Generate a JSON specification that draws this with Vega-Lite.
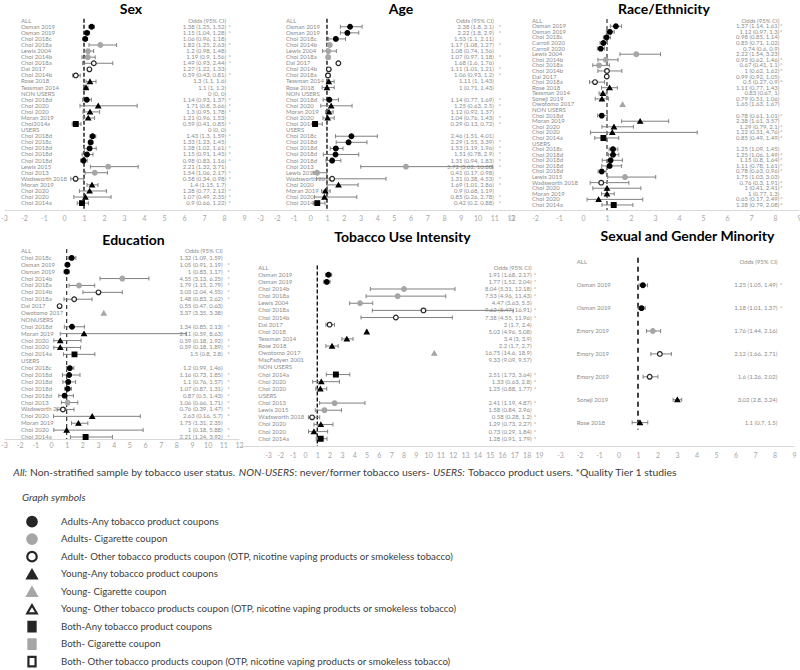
{
"$schema":"https://vega.github.io/schema/vega-lite/v6.json",
"padding":{"top":3,"left":0,"right":0,"bottom":0},
"background":"white",
"spacing":9,
"resolve":{"scale":{"shape":"independent","fill":"independent","stroke":"independent","size":"independent"}},
"datasets":{
"sex":[
{"i":0,"study":"ALL","txt":"Odds (95% CI)","t1":false},
{"i":1,"study":"Osman 2019","or":1.38,"lo":1.25,"hi":1.52,"txt":"1.38 (1.25, 1.52)","t1":true,"sym":"AdultAny"},
{"i":2,"study":"Osman 2019","or":1.15,"lo":1.04,"hi":1.28,"txt":"1.15 (1.04, 1.28)","t1":true,"sym":"AdultAny"},
{"i":3,"study":"Choi 2018c","or":1.06,"lo":0.96,"hi":1.18,"txt":"1.06 (0.96, 1.18)","t1":false,"sym":"AdultAny"},
{"i":4,"study":"Choi 2018a","or":1.82,"lo":1.25,"hi":2.63,"txt":"1.82 (1.25, 2.63)","t1":true,"sym":"AdultCig"},
{"i":5,"study":"Lewis 2004","or":1.2,"lo":0.98,"hi":1.48,"txt":"1.2 (0.98, 1.48)","t1":false,"sym":"AdultCig"},
{"i":6,"study":"Choi 2014b","or":1.19,"lo":0.9,"hi":1.56,"txt":"1.19 (0.9, 1.56)","t1":true,"sym":"AdultCig"},
{"i":7,"study":"Choi 2018a","or":1.49,"lo":0.93,"hi":2.44,"txt":"1.49 (0.93, 2.44)","t1":true,"sym":"AdultOTP"},
{"i":8,"study":"Dai 2017","or":1.27,"lo":1.22,"hi":1.33,"txt":"1.27 (1.22, 1.33)","t1":false,"sym":"AdultOTP"},
{"i":9,"study":"Choi 2014b","or":0.59,"lo":0.43,"hi":0.81,"txt":"0.59 (0.43, 0.81)","t1":true,"sym":"AdultOTP"},
{"i":10,"study":"Rose 2018","or":1.3,"lo":1.1,"hi":1.6,"txt":"1.3 (1.1, 1.6)","t1":false,"sym":"YoungAny"},
{"i":11,"study":"Tessman 2014","or":1.1,"lo":1,"hi":1.2,"txt":"1.1 (1, 1.2)","t1":false,"sym":"YoungAny"},
{"i":12,"study":"NON USERS","txt":"0 (0, 0)","t1":false},
{"i":13,"study":"Choi 2018d","or":1.14,"lo":0.93,"hi":1.37,"txt":"1.14 (0.93, 1.37)","t1":true,"sym":"AdultAny"},
{"i":14,"study":"Choi 2020","or":1.71,"lo":0.8,"hi":3.66,"txt":"1.71 (0.8, 3.66)","t1":true,"sym":"YoungAny"},
{"i":15,"study":"Choi 2020","or":1.3,"lo":0.95,"hi":1.78,"txt":"1.3 (0.95, 1.78)","t1":true,"sym":"YoungAny"},
{"i":16,"study":"Moran 2019","or":1.21,"lo":0.96,"hi":1.53,"txt":"1.21 (0.96, 1.53)","t1":false,"sym":"YoungAny"},
{"i":17,"study":"Choi2014a","or":0.59,"lo":0.41,"hi":0.85,"txt":"0.59 (0.41, 0.85)","t1":true,"sym":"BothAny"},
{"i":18,"study":"USERS","txt":"0 (0, 0)","t1":false},
{"i":19,"study":"Choi 2018d","or":1.43,"lo":1.3,"hi":1.59,"txt":"1.43 (1.3, 1.59)","t1":true,"sym":"AdultAny"},
{"i":20,"study":"Choi 2018c","or":1.33,"lo":1.23,"hi":1.45,"txt":"1.33 (1.23, 1.45)","t1":false,"sym":"AdultAny"},
{"i":21,"study":"Choi 2018d","or":1.28,"lo":1.02,"hi":1.61,"txt":"1.28 (1.02, 1.61)","t1":true,"sym":"AdultAny"},
{"i":22,"study":"Choi 2018d","or":1.15,"lo":0.91,"hi":1.45,"txt":"1.15 (0.91, 1.45)","t1":true,"sym":"AdultAny"},
{"i":23,"study":"Choi 2018d","or":0.98,"lo":0.83,"hi":1.16,"txt":"0.98 (0.83, 1.16)","t1":true,"sym":"AdultAny"},
{"i":24,"study":"Lewis 2015","or":2.21,"lo":1.32,"hi":3.71,"txt":"2.21 (1.32, 3.71)","t1":false,"sym":"AdultCig"},
{"i":25,"study":"Choi 2013","or":1.54,"lo":1.06,"hi":2.17,"txt":"1.54 (1.06, 2.17)","t1":true,"sym":"AdultCig"},
{"i":26,"study":"Wadsworth 2018","or":0.58,"lo":0.34,"hi":0.98,"txt":"0.58 (0.34, 0.98)","t1":true,"sym":"AdultOTP"},
{"i":27,"study":"Moran 2019","or":1.4,"lo":1.15,"hi":1.7,"txt":"1.4 (1.15, 1.7)","t1":false,"sym":"YoungAny"},
{"i":28,"study":"Choi 2020","or":1.28,"lo":0.77,"hi":2.12,"txt":"1.28 (0.77, 2.12)","t1":true,"sym":"YoungAny"},
{"i":29,"study":"Choi 2020","or":1.07,"lo":0.49,"hi":2.35,"txt":"1.07 (0.49, 2.35)","t1":true,"sym":"YoungAny"},
{"i":30,"study":"Choi 2014a","or":0.9,"lo":0.66,"hi":1.22,"txt":"0.9 (0.66, 1.22)","t1":true,"sym":"BothAny"}
],
"age":[
{"i":0,"study":"ALL","txt":"Odds (95% CI)","t1":false},
{"i":1,"study":"Osman 2019","or":2.38,"lo":1.8,"hi":3.1,"txt":"2.38 (1.8, 3.1)","t1":true,"sym":"AdultAny"},
{"i":2,"study":"Osman 2019","or":2.22,"lo":1.8,"hi":2.9,"txt":"2.22 (1.8, 2.9)","t1":true,"sym":"AdultAny"},
{"i":3,"study":"Choi 2018c","or":1.53,"lo":1.1,"hi":2.11,"txt":"1.53 (1.1, 2.11)","t1":false,"sym":"AdultAny"},
{"i":4,"study":"Choi 2014b","or":1.17,"lo":1.08,"hi":1.27,"txt":"1.17 (1.08, 1.27)","t1":true,"sym":"AdultCig"},
{"i":5,"study":"Lewis 2004","or":1.08,"lo":0.74,"hi":1.56,"txt":"1.08 (0.74, 1.56)","t1":false,"sym":"AdultCig"},
{"i":6,"study":"Choi 2018a","or":1.07,"lo":0.97,"hi":1.18,"txt":"1.07 (0.97, 1.18)","t1":true,"sym":"AdultCig"},
{"i":7,"study":"Dai 2017","or":1.68,"lo":1.6,"hi":1.76,"txt":"1.68 (1.6, 1.76)","t1":false,"sym":"AdultOTP"},
{"i":8,"study":"Choi 2014b","or":1.11,"lo":1.01,"hi":1.21,"txt":"1.11 (1.01, 1.21)","t1":true,"sym":"AdultOTP"},
{"i":9,"study":"Choi 2018a","or":1.06,"lo":0.93,"hi":1.2,"txt":"1.06 (0.93, 1.2)","t1":true,"sym":"AdultOTP"},
{"i":10,"study":"Tessman 2014","or":1.11,"lo":1,"hi":1.43,"txt":"1.11 (1, 1.43)","t1":false,"sym":"YoungAny"},
{"i":11,"study":"Rose 2018","or":1,"lo":0.71,"hi":1.43,"txt":"1 (0.71, 1.43)","t1":false,"sym":"YoungAny"},
{"i":12,"study":"NON USERS","txt":"","t1":false},
{"i":13,"study":"Choi 2018d","or":1.14,"lo":0.77,"hi":1.69,"txt":"1.14 (0.77, 1.69)","t1":true,"sym":"AdultAny"},
{"i":14,"study":"Choi 2020","or":1.25,"lo":0.63,"hi":2.5,"txt":"1.25 (0.63, 2.5)","t1":true,"sym":"YoungAny"},
{"i":15,"study":"Moran 2019","or":1.12,"lo":0.92,"hi":1.37,"txt":"1.12 (0.92, 1.37)","t1":false,"sym":"YoungAny"},
{"i":16,"study":"Choi 2020","or":1.04,"lo":0.76,"hi":1.43,"txt":"1.04 (0.76, 1.43)","t1":true,"sym":"YoungAny"},
{"i":17,"study":"Choi 2014a","or":0.29,"lo":0.13,"hi":0.72,"txt":"0.29 (0.13, 0.72)","t1":true,"sym":"BothAny"},
{"i":18,"study":"USERS","txt":"","t1":false},
{"i":19,"study":"Choi 2018c","or":2.46,"lo":1.51,"hi":4.01,"txt":"2.46 (1.51, 4.01)","t1":false,"sym":"AdultAny"},
{"i":20,"study":"Choi 2018d","or":2.29,"lo":1.55,"hi":3.39,"txt":"2.29 (1.55, 3.39)","t1":true,"sym":"AdultAny"},
{"i":21,"study":"Choi 2018d","or":1.53,"lo":1.19,"hi":1.96,"txt":"1.53 (1.19, 1.96)","t1":true,"sym":"AdultAny"},
{"i":22,"study":"Choi 2018d","or":1.51,"lo":0.78,"hi":2.9,"txt":"1.51 (0.78, 2.9)","t1":true,"sym":"AdultAny"},
{"i":23,"study":"Choi 2018d","or":1.31,"lo":0.94,"hi":1.83,"txt":"1.31 (0.94, 1.83)","t1":true,"sym":"AdultAny"},
{"i":24,"study":"Choi 2013","or":5.72,"lo":3.02,"hi":10.88,"txt":"5.72 (3.02, 10.88)","t1":true,"sym":"AdultCig"},
{"i":25,"study":"Lewis 2015","or":0.41,"lo":0.17,"hi":0.98,"txt":"0.41 (0.17, 0.98)","t1":false,"sym":"AdultCig"},
{"i":26,"study":"Wadsworth 2018","or":1.31,"lo":0.38,"hi":4.53,"txt":"1.31 (0.38, 4.53)","t1":true,"sym":"AdultOTP"},
{"i":27,"study":"Choi 2020","or":1.69,"lo":1.01,"hi":2.86,"txt":"1.69 (1.01, 2.86)","t1":true,"sym":"YoungAny"},
{"i":28,"study":"Moran 2019","or":0.9,"lo":0.68,"hi":1.19,"txt":"0.9 (0.68, 1.19)","t1":false,"sym":"YoungAny"},
{"i":29,"study":"Choi 2020","or":0.85,"lo":0.26,"hi":2.78,"txt":"0.85 (0.26, 2.78)","t1":true,"sym":"YoungAny"},
{"i":30,"study":"Choi 2014a","or":0.42,"lo":0.2,"hi":0.88,"txt":"0.42 (0.2, 0.88)","t1":true,"sym":"BothAny"}
],
"race":[
{"i":0,"study":"ALL","txt":"Odds (95% CI)","t1":false},
{"i":1,"study":"Osman 2019","or":1.37,"lo":1.14,"hi":1.61,"txt":"1.37 (1.14, 1.61)","t1":true,"sym":"AdultAny"},
{"i":2,"study":"Osman 2019","or":1.12,"lo":0.97,"hi":1.3,"txt":"1.12 (0.97, 1.3)","t1":true,"sym":"AdultAny"},
{"i":3,"study":"Choi 2018c","or":0.98,"lo":0.85,"hi":1.14,"txt":"0.98 (0.85, 1.14)","t1":false,"sym":"AdultAny"},
{"i":4,"study":"Carroll 2020","or":0.85,"lo":0.71,"hi":1.02,"txt":"0.85 (0.71, 1.02)","t1":false,"sym":"AdultAny"},
{"i":5,"study":"Carroll 2020","or":0.74,"lo":0.6,"hi":0.9,"txt":"0.74 (0.6, 0.9)","t1":false,"sym":"AdultAny"},
{"i":6,"study":"Lewis 2004","or":2.22,"lo":1.54,"hi":3.23,"txt":"2.22 (1.54, 3.23)","t1":false,"sym":"AdultCig"},
{"i":7,"study":"Choi 2014b","or":0.95,"lo":0.62,"hi":1.46,"txt":"0.95 (0.62, 1.46)","t1":true,"sym":"AdultCig"},
{"i":8,"study":"Choi 2018a","or":0.67,"lo":0.41,"hi":1.1,"txt":"0.67 (0.41, 1.1)","t1":true,"sym":"AdultCig"},
{"i":9,"study":"Choi 2014b","or":1,"lo":0.62,"hi":1.62,"txt":"1 (0.62, 1.62)","t1":true,"sym":"AdultOTP"},
{"i":10,"study":"Dai 2017","or":0.99,"lo":0.92,"hi":1.05,"txt":"0.99 (0.92, 1.05)","t1":false,"sym":"AdultOTP"},
{"i":11,"study":"Choi 2018a","or":0.5,"lo":0.27,"hi":0.9,"txt":"0.5 (0.27, 0.9)","t1":true,"sym":"AdultOTP"},
{"i":12,"study":"Rose 2018","or":1.11,"lo":0.77,"hi":1.43,"txt":"1.11 (0.77, 1.43)","t1":false,"sym":"YoungAny"},
{"i":13,"study":"Tessman 2014","or":0.83,"lo":0.67,"hi":1,"txt":"0.83 (0.67, 1)","t1":false,"sym":"YoungAny"},
{"i":14,"study":"Soneji 2019","or":0.79,"lo":0.51,"hi":1.06,"txt":"0.79 (0.51, 1.06)","t1":false,"sym":"YoungAny"},
{"i":15,"study":"Owotomo 2017","or":1.65,"txt":"1.65 (1.63, 1.67)","t1":false,"sym":"YoungCig"},
{"i":16,"study":"NON USERS","txt":"","t1":false},
{"i":17,"study":"Choi 2018d","or":0.78,"lo":0.61,"hi":1.01,"txt":"0.78 (0.61, 1.01)","t1":true,"sym":"AdultAny"},
{"i":18,"study":"Moran 2019","or":2.38,"lo":1.61,"hi":3.57,"txt":"2.38 (1.61, 3.57)","t1":false,"sym":"YoungAny"},
{"i":19,"study":"Choi 2020","or":1.29,"lo":0.79,"hi":2.1,"txt":"1.29 (0.79, 2.1)","t1":true,"sym":"YoungAny"},
{"i":20,"study":"Choi 2020","or":1.22,"lo":0.31,"hi":4.76,"txt":"1.22 (0.31, 4.76)","t1":true,"sym":"YoungAny"},
{"i":21,"study":"Choi 2014a","or":0.85,"lo":0.49,"hi":1.49,"txt":"0.85 (0.49, 1.49)","t1":true,"sym":"BothAny"},
{"i":22,"study":"USERS","txt":"","t1":false},
{"i":23,"study":"Choi 2018c","or":1.25,"lo":1.09,"hi":1.45,"txt":"1.25 (1.09, 1.45)","t1":false,"sym":"AdultAny"},
{"i":24,"study":"Choi 2018d","or":1.25,"lo":1.06,"hi":1.49,"txt":"1.25 (1.06, 1.49)","t1":true,"sym":"AdultAny"},
{"i":25,"study":"Choi 2018d","or":1.15,"lo":0.8,"hi":1.64,"txt":"1.15 (0.8, 1.64)","t1":true,"sym":"AdultAny"},
{"i":26,"study":"Choi 2018d","or":1.11,"lo":0.78,"hi":1.61,"txt":"1.11 (0.78, 1.61)","t1":true,"sym":"AdultAny"},
{"i":27,"study":"Choi 2018d","or":0.78,"lo":0.63,"hi":0.96,"txt":"0.78 (0.63, 0.96)","t1":true,"sym":"AdultAny"},
{"i":28,"study":"Lewis 2015","or":1.75,"lo":1.03,"hi":3.03,"txt":"1.75 (1.03, 3.03)","t1":false,"sym":"AdultCig"},
{"i":29,"study":"Wadsworth 2018","or":0.76,"lo":0.3,"hi":1.91,"txt":"0.76 (0.3, 1.91)","t1":true,"sym":"AdultOTP"},
{"i":30,"study":"Choi 2020","or":1,"lo":0.41,"hi":2.41,"txt":"1 (0.41, 2.41)","t1":true,"sym":"YoungAny"},
{"i":31,"study":"Moran 2019","or":1,"lo":0.77,"hi":1.3,"txt":"1 (0.77, 1.3)","t1":false,"sym":"YoungAny"},
{"i":32,"study":"Choi 2020","or":0.65,"lo":0.17,"hi":2.49,"txt":"0.65 (0.17, 2.49)","t1":true,"sym":"YoungAny"},
{"i":33,"study":"Choi 2014a","or":1.28,"lo":0.79,"hi":2.08,"txt":"1.28 (0.79, 2.08)","t1":true,"sym":"BothAny"}
],
"edu":[
{"i":0,"study":"ALL","txt":"Odds (95% CI)","t1":false},
{"i":1,"study":"Choi 2018c","or":1.32,"lo":1.09,"hi":1.59,"txt":"1.32 (1.09, 1.59)","t1":false,"sym":"AdultAny"},
{"i":2,"study":"Osman 2019","or":1.05,"lo":0.91,"hi":1.19,"txt":"1.05 (0.91, 1.19)","t1":true,"sym":"AdultAny"},
{"i":3,"study":"Osman 2019","or":1,"lo":0.83,"hi":1.17,"txt":"1 (0.83, 1.17)","t1":true,"sym":"AdultAny"},
{"i":4,"study":"Choi 2014b","or":4.55,"lo":3.13,"hi":6.25,"txt":"4.55 (3.13, 6.25)","t1":true,"sym":"AdultCig"},
{"i":5,"study":"Choi 2018a","or":1.79,"lo":1.15,"hi":2.79,"txt":"1.79 (1.15, 2.79)","t1":true,"sym":"AdultCig"},
{"i":6,"study":"Choi 2014b","or":3.03,"lo":2.04,"hi":4.55,"txt":"3.03 (2.04, 4.55)","t1":true,"sym":"AdultOTP"},
{"i":7,"study":"Choi 2018a","or":1.48,"lo":0.83,"hi":2.62,"txt":"1.48 (0.83, 2.62)","t1":true,"sym":"AdultOTP"},
{"i":8,"study":"Dai 2017","or":0.55,"lo":0.47,"hi":0.63,"txt":"0.55 (0.47, 0.63)","t1":false,"sym":"AdultOTP"},
{"i":9,"study":"Owotomo 2017","or":3.37,"txt":"3.37 (3.35, 3.38)","t1":false,"sym":"YoungCig"},
{"i":10,"study":"NONUSERS","txt":"","t1":false},
{"i":11,"study":"Choi 2018d","or":1.34,"lo":0.85,"hi":2.13,"txt":"1.34 (0.85, 2.13)","t1":true,"sym":"AdultAny"},
{"i":12,"study":"Moran 2019","or":2.11,"lo":0.59,"hi":8.63,"txt":"2.11 (0.59, 8.63)","t1":false,"sym":"YoungAny"},
{"i":13,"study":"Choi 2020","or":0.59,"lo":0.18,"hi":1.92,"txt":"0.59 (0.18, 1.92)","t1":true,"sym":"YoungAny"},
{"i":14,"study":"Choi 2020","or":0.59,"lo":0.18,"hi":1.89,"txt":"0.59 (0.18, 1.89)","t1":true,"sym":"YoungAny"},
{"i":15,"study":"Choi 2014a","or":1.5,"lo":0.8,"hi":2.8,"txt":"1.5 (0.8, 2.8)","t1":true,"sym":"BothAny"},
{"i":16,"study":"USERS","txt":"","t1":false},
{"i":17,"study":"Choi 2018c","or":1.2,"lo":0.99,"hi":1.46,"txt":"1.2 (0.99, 1.46)","t1":false,"sym":"AdultAny"},
{"i":18,"study":"Choi 2018d","or":1.16,"lo":0.73,"hi":1.85,"txt":"1.16 (0.73, 1.85)","t1":true,"sym":"AdultAny"},
{"i":19,"study":"Choi 2018d","or":1.1,"lo":0.76,"hi":1.57,"txt":"1.1 (0.76, 1.57)","t1":true,"sym":"AdultAny"},
{"i":20,"study":"Choi 2018d","or":1.07,"lo":0.87,"hi":1.31,"txt":"1.07 (0.87, 1.31)","t1":true,"sym":"AdultAny"},
{"i":21,"study":"Choi 2018d","or":0.87,"lo":0.5,"hi":1.43,"txt":"0.87 (0.5, 1.43)","t1":true,"sym":"AdultAny"},
{"i":22,"study":"Choi 2013","or":1.06,"lo":0.66,"hi":1.71,"txt":"1.06 (0.66, 1.71)","t1":true,"sym":"AdultCig"},
{"i":23,"study":"Wadsworth 2018","or":0.76,"lo":0.39,"hi":1.47,"txt":"0.76 (0.39, 1.47)","t1":true,"sym":"AdultOTP"},
{"i":24,"study":"Choi 2020","or":2.63,"lo":0.16,"hi":5.7,"txt":"2.63 (0.16, 5.7)","t1":true,"sym":"YoungAny"},
{"i":25,"study":"Moran 2019","or":1.75,"lo":1.31,"hi":2.35,"txt":"1.75 (1.31, 2.35)","t1":false,"sym":"YoungAny"},
{"i":26,"study":"Choi 2020","or":1,"lo":0.18,"hi":5.88,"txt":"1 (0.18, 5.88)","t1":true,"sym":"YoungAny"},
{"i":27,"study":"Choi 2014a","or":2.21,"lo":1.24,"hi":3.92,"txt":"2.21 (1.24, 3.92)","t1":true,"sym":"BothAny"}
],
"tob":[
{"i":0,"study":"ALL","txt":"Odds (95% CI)","t1":false},
{"i":1,"study":"Osman 2019","or":1.91,"lo":1.68,"hi":2.17,"txt":"1.91 (1.68, 2.17)","t1":true,"sym":"AdultAny"},
{"i":2,"study":"Osman 2019","or":1.77,"lo":1.52,"hi":2.04,"txt":"1.77 (1.52, 2.04)","t1":true,"sym":"AdultAny"},
{"i":3,"study":"Choi 2014b","or":8.04,"lo":5.31,"hi":12.18,"txt":"8.04 (5.31, 12.18)","t1":true,"sym":"AdultCig"},
{"i":4,"study":"Choi 2018a","or":7.53,"lo":4.96,"hi":11.43,"txt":"7.53 (4.96, 11.43)","t1":true,"sym":"AdultCig"},
{"i":5,"study":"Lewis 2004","or":4.47,"lo":3.63,"hi":5.5,"txt":"4.47 (3.63, 5.5)","t1":false,"sym":"AdultCig"},
{"i":6,"study":"Choi 2018a","or":9.62,"lo":5.47,"hi":16.91,"txt":"9.62 (5.47, 16.91)","t1":true,"sym":"AdultOTP"},
{"i":7,"study":"Choi 2014b","or":7.38,"lo":4.55,"hi":11.96,"txt":"7.38 (4.55, 11.96)","t1":true,"sym":"AdultOTP"},
{"i":8,"study":"Dai 2017","or":2,"lo":1.7,"hi":2.4,"txt":"2 (1.7, 2.4)","t1":false,"sym":"AdultOTP"},
{"i":9,"study":"Choi 2018","or":5.02,"lo":4.96,"hi":5.08,"txt":"5.02 (4.96, 5.08)","t1":false,"sym":"YoungAny"},
{"i":10,"study":"Tessman 2014","or":3.4,"lo":3,"hi":3.9,"txt":"3.4 (3, 3.9)","t1":false,"sym":"YoungAny"},
{"i":11,"study":"Rose 2018","or":2.2,"lo":1.7,"hi":2.7,"txt":"2.2 (1.7, 2.7)","t1":false,"sym":"YoungAny"},
{"i":12,"study":"Owotomo 2017","or":10.5,"txt":"16.75 (14.6, 18.9)","t1":false,"sym":"YoungCig"},
{"i":13,"study":"MacFadyen 2001","txt":"9.33 (9.09, 9.57)","t1":false},
{"i":14,"study":"NON USERS","txt":"","t1":false},
{"i":15,"study":"Choi 2014a","or":2.51,"lo":1.73,"hi":3.64,"txt":"2.51 (1.73, 3.64)","t1":true,"sym":"BothAny"},
{"i":16,"study":"Choi 2020","or":1.33,"lo":0.63,"hi":2.8,"txt":"1.33 (0.63, 2.8)","t1":true,"sym":"YoungAny"},
{"i":17,"study":"Choi 2020","or":1.25,"lo":0.88,"hi":1.77,"txt":"1.25 (0.88, 1.77)","t1":true,"sym":"YoungAny"},
{"i":18,"study":"USERS","txt":"","t1":false},
{"i":19,"study":"Choi 2013","or":2.41,"lo":1.19,"hi":4.87,"txt":"2.41 (1.19, 4.87)","t1":true,"sym":"AdultCig"},
{"i":20,"study":"Lewis 2015","or":1.58,"lo":0.84,"hi":2.96,"txt":"1.58 (0.84, 2.96)","t1":false,"sym":"AdultCig"},
{"i":21,"study":"Wadsworth 2018","or":0.58,"lo":0.28,"hi":1.2,"txt":"0.58 (0.28, 1.2)","t1":true,"sym":"AdultOTP"},
{"i":22,"study":"Choi 2020","or":1.29,"lo":0.73,"hi":2.27,"txt":"1.29 (0.73, 2.27)","t1":true,"sym":"YoungAny"},
{"i":23,"study":"Choi 2020","or":0.73,"lo":0.29,"hi":1.84,"txt":"0.73 (0.29, 1.84)","t1":true,"sym":"YoungAny"},
{"i":24,"study":"Choi 2014a","or":1.28,"lo":0.91,"hi":1.79,"txt":"1.28 (0.91, 1.79)","t1":true,"sym":"BothAny"}
],
"sgm":[
{"i":0,"study":"ALL","txt":"Odds (95% CI)","t1":false},
{"i":1,"study":"Osman 2019","or":1.25,"lo":1.05,"hi":1.49,"txt":"1.25 (1.05, 1.49)","t1":true,"sym":"AdultAny"},
{"i":2,"study":"Osman 2019","or":1.18,"lo":1.01,"hi":1.37,"txt":"1.18 (1.01, 1.37)","t1":true,"sym":"AdultAny"},
{"i":3,"study":"Emory 2019","or":1.76,"lo":1.44,"hi":2.16,"txt":"1.76 (1.44, 2.16)","t1":false,"sym":"AdultCig"},
{"i":4,"study":"Emory 2019","or":2.12,"lo":1.66,"hi":2.71,"txt":"2.12 (1.66, 2.71)","t1":false,"sym":"AdultOTP"},
{"i":5,"study":"Emory 2019","or":1.6,"lo":1.26,"hi":2.02,"txt":"1.6 (1.26, 2.02)","t1":false,"sym":"AdultOTP"},
{"i":6,"study":"Soneji 2019","or":3.02,"lo":2.8,"hi":3.24,"txt":"3.02 (2.8, 3.24)","t1":false,"sym":"YoungAny"},
{"i":7,"study":"Rose 2018","or":1.1,"lo":0.7,"hi":1.5,"txt":"1.1 (0.7, 1.5)","t1":false,"sym":"YoungAny"}
],
"legend":[
{"k":0,"sym":"AdultAny","label":"Adults-Any tobacco product coupons"},
{"k":1,"sym":"AdultCig","label":"Adults- Cigarette coupon"},
{"k":2,"sym":"AdultOTP","label":"Adult- Other tobacco products coupon (OTP, nicotine vaping products or smokeless tobacco)"},
{"k":3,"sym":"YoungAny","label":"Young-Any tobacco product coupons"},
{"k":4,"sym":"YoungCig","label":"Young- Cigarette coupon"},
{"k":5,"sym":"YoungOTP","label":"Young- Other tobacco products coupon (OTP, nicotine vaping products or smokeless tobacco)"},
{"k":6,"sym":"BothAny","label":"Both-Any tobacco product coupons"},
{"k":7,"sym":"BothCig","label":"Both- Cigarette coupon"},
{"k":8,"sym":"BothOTP","label":"Both- Other tobacco products coupon (OTP, nicotine vaping products or smokeless tobacco)"}
]
},
"vconcat":[
{"spacing":9,
"vconcat":[
{"hconcat":[
{"width":240,"height":194,"title":{"text":"Sex","dx":7},"data":{"name":"sex"},
"layer":[
{"mark":{"type":"text","align":"left"},"encoding":{"x":{"datum":-2.15,"type":"quantitative","scale":{"domain":[-3,9],"nice":false,"zero":false},"axis":{"title":null,"values":[-3,-2,-1,0,1,2,3,4,5,6,7,8,9],"labelPadding":4}},"y":{"field":"i","type":"quantitative","scale":{"domain":[-0.77,31.13],"reverse":true,"nice":false,"zero":false},"axis":null},"text":{"field":"study"}}},
{"mark":{"type":"text","align":"right"},"encoding":{"x":{"datum":8.1,"type":"quantitative","scale":{"domain":[-3,9],"nice":false,"zero":false},"axis":{"title":null,"values":[-3,-2,-1,0,1,2,3,4,5,6,7,8,9],"labelPadding":4}},"y":{"field":"i","type":"quantitative","scale":{"domain":[-0.77,31.13],"reverse":true,"nice":false,"zero":false},"axis":null},"text":{"field":"txt"}}},
{"transform":[{"filter":"datum.t1"}],"mark":{"type":"text","align":"left"},"encoding":{"x":{"datum":8.22,"type":"quantitative","scale":{"domain":[-3,9],"nice":false,"zero":false},"axis":{"title":null,"values":[-3,-2,-1,0,1,2,3,4,5,6,7,8,9],"labelPadding":4}},"y":{"field":"i","type":"quantitative","scale":{"domain":[-0.77,31.13],"reverse":true,"nice":false,"zero":false},"axis":null},"text":{"value":"*"}}},
{"data":{"values":[{"ref":1}]},"mark":{"type":"rule","strokeDash":[4,2],"color":"#000000","strokeWidth":1.3},"encoding":{"x":{"field":"ref","type":"quantitative","scale":{"domain":[-3,9],"nice":false,"zero":false},"axis":{"title":null,"values":[-3,-2,-1,0,1,2,3,4,5,6,7,8,9],"labelPadding":4}},"y":{"datum":-0.3,"type":"quantitative","scale":{"domain":[-0.77,31.13],"reverse":true,"nice":false,"zero":false},"axis":null},"y2":{"datum":31.13}}},
{"transform":[{"filter":"datum.lo != null"}],"mark":{"type":"rule","color":"#808080","strokeWidth":1},"encoding":{"x":{"field":"lo","type":"quantitative","scale":{"domain":[-3,9],"nice":false,"zero":false},"axis":{"title":null,"values":[-3,-2,-1,0,1,2,3,4,5,6,7,8,9],"labelPadding":4}},"x2":{"field":"hi"},"y":{"field":"i","type":"quantitative","scale":{"domain":[-0.77,31.13],"reverse":true,"nice":false,"zero":false},"axis":null}}},
{"transform":[{"filter":"datum.lo != null"}],"mark":{"type":"tick","orient":"vertical","size":4,"thickness":1,"color":"#808080","opacity":1},"encoding":{"x":{"field":"lo","type":"quantitative","scale":{"domain":[-3,9],"nice":false,"zero":false},"axis":{"title":null,"values":[-3,-2,-1,0,1,2,3,4,5,6,7,8,9],"labelPadding":4}},"y":{"field":"i","type":"quantitative","scale":{"domain":[-0.77,31.13],"reverse":true,"nice":false,"zero":false},"axis":null}}},
{"transform":[{"filter":"datum.lo != null"}],"mark":{"type":"tick","orient":"vertical","size":4,"thickness":1,"color":"#808080","opacity":1},"encoding":{"x":{"field":"hi","type":"quantitative","scale":{"domain":[-3,9],"nice":false,"zero":false},"axis":{"title":null,"values":[-3,-2,-1,0,1,2,3,4,5,6,7,8,9],"labelPadding":4}},"y":{"field":"i","type":"quantitative","scale":{"domain":[-0.77,31.13],"reverse":true,"nice":false,"zero":false},"axis":null}}},
{"transform":[{"filter":"datum.or != null"}],"mark":{"type":"point","strokeWidth":1.2,"opacity":1},"encoding":{"x":{"field":"or","type":"quantitative","scale":{"domain":[-3,9],"nice":false,"zero":false},"axis":{"title":null,"values":[-3,-2,-1,0,1,2,3,4,5,6,7,8,9],"labelPadding":4}},"y":{"field":"i","type":"quantitative","scale":{"domain":[-0.77,31.13],"reverse":true,"nice":false,"zero":false},"axis":null},
"shape":{"field":"sym","type":"nominal","scale":{"domain":["AdultAny","AdultCig","AdultOTP","YoungAny","YoungCig","YoungOTP","BothAny","BothCig","BothOTP"],"range":["circle","circle","circle","triangle-up","triangle-up","triangle-up","square","square","square"]},"legend":null},
"fill":{"field":"sym","type":"nominal","scale":{"domain":["AdultAny","AdultCig","AdultOTP","YoungAny","YoungCig","YoungOTP","BothAny","BothCig","BothOTP"],"range":["#000000","#a6a6a6","#ffffff","#000000","#a6a6a6","#ffffff","#000000","#a6a6a6","#ffffff"]},"legend":null},
"stroke":{"field":"sym","type":"nominal","scale":{"domain":["AdultAny","AdultCig","AdultOTP","YoungAny","YoungCig","YoungOTP","BothAny","BothCig","BothOTP"],"range":["#000000","#a6a6a6","#262626","#000000","#a6a6a6","#262626","#000000","#a6a6a6","#262626"]},"legend":null},
"size":{"field":"sym","type":"ordinal","scale":{"domain":["AdultAny","AdultCig","AdultOTP","YoungAny","YoungCig","YoungOTP","BothAny","BothCig","BothOTP"],"range":[22,22,18,26,26,22,40,40,34]},"legend":null}}}
]},
{"width":267,"height":194,"title":{"text":"Age","dx":23.5},"data":{"name":"age"},
"layer":[
{"mark":{"type":"text","align":"left"},"encoding":{"x":{"datum":-1.45,"type":"quantitative","scale":{"domain":[-3.96,12],"nice":false,"zero":false},"axis":{"title":null,"values":[-3,-2,-1,0,1,2,3,4,5,6,7,8,9,10,11,12],"labelPadding":4}},"y":{"field":"i","type":"quantitative","scale":{"domain":[-0.77,31.13],"reverse":true,"nice":false,"zero":false},"axis":null},"text":{"field":"study"}}},
{"mark":{"type":"text","align":"right"},"encoding":{"x":{"datum":10.97,"type":"quantitative","scale":{"domain":[-3.96,12],"nice":false,"zero":false},"axis":{"title":null,"values":[-3,-2,-1,0,1,2,3,4,5,6,7,8,9,10,11,12],"labelPadding":4}},"y":{"field":"i","type":"quantitative","scale":{"domain":[-0.77,31.13],"reverse":true,"nice":false,"zero":false},"axis":null},"text":{"field":"txt"}}},
{"transform":[{"filter":"datum.t1"}],"mark":{"type":"text","align":"left"},"encoding":{"x":{"datum":11.25,"type":"quantitative","scale":{"domain":[-3.96,12],"nice":false,"zero":false},"axis":{"title":null,"values":[-3,-2,-1,0,1,2,3,4,5,6,7,8,9,10,11,12],"labelPadding":4}},"y":{"field":"i","type":"quantitative","scale":{"domain":[-0.77,31.13],"reverse":true,"nice":false,"zero":false},"axis":null},"text":{"value":"*"}}},
{"data":{"values":[{"ref":1}]},"mark":{"type":"rule","strokeDash":[4,2],"color":"#000000","strokeWidth":1.3},"encoding":{"x":{"field":"ref","type":"quantitative","scale":{"domain":[-3.96,12],"nice":false,"zero":false},"axis":{"title":null,"values":[-3,-2,-1,0,1,2,3,4,5,6,7,8,9,10,11,12],"labelPadding":4}},"y":{"datum":-0.3,"type":"quantitative","scale":{"domain":[-0.77,31.13],"reverse":true,"nice":false,"zero":false},"axis":null},"y2":{"datum":31.13}}},
{"transform":[{"filter":"datum.lo != null"}],"mark":{"type":"rule","color":"#808080","strokeWidth":1},"encoding":{"x":{"field":"lo","type":"quantitative","scale":{"domain":[-3.96,12],"nice":false,"zero":false},"axis":{"title":null,"values":[-3,-2,-1,0,1,2,3,4,5,6,7,8,9,10,11,12],"labelPadding":4}},"x2":{"field":"hi"},"y":{"field":"i","type":"quantitative","scale":{"domain":[-0.77,31.13],"reverse":true,"nice":false,"zero":false},"axis":null}}},
{"transform":[{"filter":"datum.lo != null"}],"mark":{"type":"tick","orient":"vertical","size":4,"thickness":1,"color":"#808080","opacity":1},"encoding":{"x":{"field":"lo","type":"quantitative","scale":{"domain":[-3.96,12],"nice":false,"zero":false},"axis":{"title":null,"values":[-3,-2,-1,0,1,2,3,4,5,6,7,8,9,10,11,12],"labelPadding":4}},"y":{"field":"i","type":"quantitative","scale":{"domain":[-0.77,31.13],"reverse":true,"nice":false,"zero":false},"axis":null}}},
{"transform":[{"filter":"datum.lo != null"}],"mark":{"type":"tick","orient":"vertical","size":4,"thickness":1,"color":"#808080","opacity":1},"encoding":{"x":{"field":"hi","type":"quantitative","scale":{"domain":[-3.96,12],"nice":false,"zero":false},"axis":{"title":null,"values":[-3,-2,-1,0,1,2,3,4,5,6,7,8,9,10,11,12],"labelPadding":4}},"y":{"field":"i","type":"quantitative","scale":{"domain":[-0.77,31.13],"reverse":true,"nice":false,"zero":false},"axis":null}}},
{"transform":[{"filter":"datum.or != null"}],"mark":{"type":"point","strokeWidth":1.2,"opacity":1},"encoding":{"x":{"field":"or","type":"quantitative","scale":{"domain":[-3.96,12],"nice":false,"zero":false},"axis":{"title":null,"values":[-3,-2,-1,0,1,2,3,4,5,6,7,8,9,10,11,12],"labelPadding":4}},"y":{"field":"i","type":"quantitative","scale":{"domain":[-0.77,31.13],"reverse":true,"nice":false,"zero":false},"axis":null},
"shape":{"field":"sym","type":"nominal","scale":{"domain":["AdultAny","AdultCig","AdultOTP","YoungAny","YoungCig","YoungOTP","BothAny","BothCig","BothOTP"],"range":["circle","circle","circle","triangle-up","triangle-up","triangle-up","square","square","square"]},"legend":null},
"fill":{"field":"sym","type":"nominal","scale":{"domain":["AdultAny","AdultCig","AdultOTP","YoungAny","YoungCig","YoungOTP","BothAny","BothCig","BothOTP"],"range":["#000000","#a6a6a6","#ffffff","#000000","#a6a6a6","#ffffff","#000000","#a6a6a6","#ffffff"]},"legend":null},
"stroke":{"field":"sym","type":"nominal","scale":{"domain":["AdultAny","AdultCig","AdultOTP","YoungAny","YoungCig","YoungOTP","BothAny","BothCig","BothOTP"],"range":["#000000","#a6a6a6","#262626","#000000","#a6a6a6","#262626","#000000","#a6a6a6","#262626"]},"legend":null},
"size":{"field":"sym","type":"ordinal","scale":{"domain":["AdultAny","AdultCig","AdultOTP","YoungAny","YoungCig","YoungOTP","BothAny","BothCig","BothOTP"],"range":[22,22,18,26,26,22,40,40,34]},"legend":null}}}
]},
{"width":288,"height":194,"title":{"text":"Race/Ethnicity","dx":9},"data":{"name":"race"},
"layer":[
{"mark":{"type":"text","align":"left"},"encoding":{"x":{"datum":-2.125,"type":"quantitative","scale":{"domain":[-3,9],"nice":false,"zero":false},"axis":{"title":null,"values":[-3,-2,-1,0,1,2,3,4,5,6,7,8,9],"labelPadding":4}},"y":{"field":"i","type":"quantitative","scale":{"domain":[-0.84,33.9],"reverse":true,"nice":false,"zero":false},"axis":null},"text":{"field":"study"}}},
{"mark":{"type":"text","align":"right"},"encoding":{"x":{"datum":8.18,"type":"quantitative","scale":{"domain":[-3,9],"nice":false,"zero":false},"axis":{"title":null,"values":[-3,-2,-1,0,1,2,3,4,5,6,7,8,9],"labelPadding":4}},"y":{"field":"i","type":"quantitative","scale":{"domain":[-0.84,33.9],"reverse":true,"nice":false,"zero":false},"axis":null},"text":{"field":"txt"}}},
{"transform":[{"filter":"datum.t1"}],"mark":{"type":"text","align":"left"},"encoding":{"x":{"datum":8.21,"type":"quantitative","scale":{"domain":[-3,9],"nice":false,"zero":false},"axis":{"title":null,"values":[-3,-2,-1,0,1,2,3,4,5,6,7,8,9],"labelPadding":4}},"y":{"field":"i","type":"quantitative","scale":{"domain":[-0.84,33.9],"reverse":true,"nice":false,"zero":false},"axis":null},"text":{"value":"*"}}},
{"data":{"values":[{"ref":1}]},"mark":{"type":"rule","strokeDash":[4,3],"color":"#333333","strokeWidth":1.2},"encoding":{"x":{"field":"ref","type":"quantitative","scale":{"domain":[-3,9],"nice":false,"zero":false},"axis":{"title":null,"values":[-3,-2,-1,0,1,2,3,4,5,6,7,8,9],"labelPadding":4}},"y":{"datum":-0.3,"type":"quantitative","scale":{"domain":[-0.84,33.9],"reverse":true,"nice":false,"zero":false},"axis":null},"y2":{"datum":33.9}}},
{"transform":[{"filter":"datum.lo != null"}],"mark":{"type":"rule","color":"#808080","strokeWidth":1},"encoding":{"x":{"field":"lo","type":"quantitative","scale":{"domain":[-3,9],"nice":false,"zero":false},"axis":{"title":null,"values":[-3,-2,-1,0,1,2,3,4,5,6,7,8,9],"labelPadding":4}},"x2":{"field":"hi"},"y":{"field":"i","type":"quantitative","scale":{"domain":[-0.84,33.9],"reverse":true,"nice":false,"zero":false},"axis":null}}},
{"transform":[{"filter":"datum.lo != null"}],"mark":{"type":"tick","orient":"vertical","size":4,"thickness":1,"color":"#808080","opacity":1},"encoding":{"x":{"field":"lo","type":"quantitative","scale":{"domain":[-3,9],"nice":false,"zero":false},"axis":{"title":null,"values":[-3,-2,-1,0,1,2,3,4,5,6,7,8,9],"labelPadding":4}},"y":{"field":"i","type":"quantitative","scale":{"domain":[-0.84,33.9],"reverse":true,"nice":false,"zero":false},"axis":null}}},
{"transform":[{"filter":"datum.lo != null"}],"mark":{"type":"tick","orient":"vertical","size":4,"thickness":1,"color":"#808080","opacity":1},"encoding":{"x":{"field":"hi","type":"quantitative","scale":{"domain":[-3,9],"nice":false,"zero":false},"axis":{"title":null,"values":[-3,-2,-1,0,1,2,3,4,5,6,7,8,9],"labelPadding":4}},"y":{"field":"i","type":"quantitative","scale":{"domain":[-0.84,33.9],"reverse":true,"nice":false,"zero":false},"axis":null}}},
{"transform":[{"filter":"datum.or != null"}],"mark":{"type":"point","strokeWidth":1.2,"opacity":1},"encoding":{"x":{"field":"or","type":"quantitative","scale":{"domain":[-3,9],"nice":false,"zero":false},"axis":{"title":null,"values":[-3,-2,-1,0,1,2,3,4,5,6,7,8,9],"labelPadding":4}},"y":{"field":"i","type":"quantitative","scale":{"domain":[-0.84,33.9],"reverse":true,"nice":false,"zero":false},"axis":null},
"shape":{"field":"sym","type":"nominal","scale":{"domain":["AdultAny","AdultCig","AdultOTP","YoungAny","YoungCig","YoungOTP","BothAny","BothCig","BothOTP"],"range":["circle","circle","circle","triangle-up","triangle-up","triangle-up","square","square","square"]},"legend":null},
"fill":{"field":"sym","type":"nominal","scale":{"domain":["AdultAny","AdultCig","AdultOTP","YoungAny","YoungCig","YoungOTP","BothAny","BothCig","BothOTP"],"range":["#000000","#a6a6a6","#ffffff","#000000","#a6a6a6","#ffffff","#000000","#a6a6a6","#ffffff"]},"legend":null},
"stroke":{"field":"sym","type":"nominal","scale":{"domain":["AdultAny","AdultCig","AdultOTP","YoungAny","YoungCig","YoungOTP","BothAny","BothCig","BothOTP"],"range":["#000000","#a6a6a6","#262626","#000000","#a6a6a6","#262626","#000000","#a6a6a6","#262626"]},"legend":null},
"size":{"field":"sym","type":"ordinal","scale":{"domain":["AdultAny","AdultCig","AdultOTP","YoungAny","YoungCig","YoungOTP","BothAny","BothCig","BothOTP"],"range":[22,22,18,26,26,22,40,40,34]},"legend":null}}}
]}
],"spacing":0,"bounds":"flush"},
{"hconcat":[
{"width":235,"height":192,"title":{"text":"Education","dx":12},"data":{"name":"edu"},
"layer":[
{"mark":{"type":"text","align":"left"},"encoding":{"x":{"datum":-1.915,"type":"quantitative","scale":{"domain":[-3,12],"nice":false,"zero":false},"axis":{"title":null,"values":[-3,-2,-1,0,1,2,3,4,5,6,7,8,9,10,11,12],"labelPadding":2}},"y":{"field":"i","type":"quantitative","scale":{"domain":[-0.58,27.29],"reverse":true,"nice":false,"zero":false},"axis":null},"text":{"field":"study"}}},
{"mark":{"type":"text","align":"right"},"encoding":{"x":{"datum":10.96,"type":"quantitative","scale":{"domain":[-3,12],"nice":false,"zero":false},"axis":{"title":null,"values":[-3,-2,-1,0,1,2,3,4,5,6,7,8,9,10,11,12],"labelPadding":2}},"y":{"field":"i","type":"quantitative","scale":{"domain":[-0.58,27.29],"reverse":true,"nice":false,"zero":false},"axis":null},"text":{"field":"txt"}}},
{"transform":[{"filter":"datum.t1"}],"mark":{"type":"text","align":"left"},"encoding":{"x":{"datum":11.25,"type":"quantitative","scale":{"domain":[-3,12],"nice":false,"zero":false},"axis":{"title":null,"values":[-3,-2,-1,0,1,2,3,4,5,6,7,8,9,10,11,12],"labelPadding":2}},"y":{"field":"i","type":"quantitative","scale":{"domain":[-0.58,27.29],"reverse":true,"nice":false,"zero":false},"axis":null},"text":{"value":"*"}}},
{"data":{"values":[{"ref":1}]},"mark":{"type":"rule","strokeDash":[4,3],"color":"#333333","strokeWidth":1.2},"encoding":{"x":{"field":"ref","type":"quantitative","scale":{"domain":[-3,12],"nice":false,"zero":false},"axis":{"title":null,"values":[-3,-2,-1,0,1,2,3,4,5,6,7,8,9,10,11,12],"labelPadding":2}},"y":{"datum":-0.3,"type":"quantitative","scale":{"domain":[-0.58,27.29],"reverse":true,"nice":false,"zero":false},"axis":null},"y2":{"datum":27.29}}},
{"transform":[{"filter":"datum.lo != null"}],"mark":{"type":"rule","color":"#808080","strokeWidth":1},"encoding":{"x":{"field":"lo","type":"quantitative","scale":{"domain":[-3,12],"nice":false,"zero":false},"axis":{"title":null,"values":[-3,-2,-1,0,1,2,3,4,5,6,7,8,9,10,11,12],"labelPadding":2}},"x2":{"field":"hi"},"y":{"field":"i","type":"quantitative","scale":{"domain":[-0.58,27.29],"reverse":true,"nice":false,"zero":false},"axis":null}}},
{"transform":[{"filter":"datum.lo != null"}],"mark":{"type":"tick","orient":"vertical","size":4,"thickness":1,"color":"#808080","opacity":1},"encoding":{"x":{"field":"lo","type":"quantitative","scale":{"domain":[-3,12],"nice":false,"zero":false},"axis":{"title":null,"values":[-3,-2,-1,0,1,2,3,4,5,6,7,8,9,10,11,12],"labelPadding":2}},"y":{"field":"i","type":"quantitative","scale":{"domain":[-0.58,27.29],"reverse":true,"nice":false,"zero":false},"axis":null}}},
{"transform":[{"filter":"datum.lo != null"}],"mark":{"type":"tick","orient":"vertical","size":4,"thickness":1,"color":"#808080","opacity":1},"encoding":{"x":{"field":"hi","type":"quantitative","scale":{"domain":[-3,12],"nice":false,"zero":false},"axis":{"title":null,"values":[-3,-2,-1,0,1,2,3,4,5,6,7,8,9,10,11,12],"labelPadding":2}},"y":{"field":"i","type":"quantitative","scale":{"domain":[-0.58,27.29],"reverse":true,"nice":false,"zero":false},"axis":null}}},
{"transform":[{"filter":"datum.or != null"}],"mark":{"type":"point","strokeWidth":1.2,"opacity":1},"encoding":{"x":{"field":"or","type":"quantitative","scale":{"domain":[-3,12],"nice":false,"zero":false},"axis":{"title":null,"values":[-3,-2,-1,0,1,2,3,4,5,6,7,8,9,10,11,12],"labelPadding":2}},"y":{"field":"i","type":"quantitative","scale":{"domain":[-0.58,27.29],"reverse":true,"nice":false,"zero":false},"axis":null},
"shape":{"field":"sym","type":"nominal","scale":{"domain":["AdultAny","AdultCig","AdultOTP","YoungAny","YoungCig","YoungOTP","BothAny","BothCig","BothOTP"],"range":["circle","circle","circle","triangle-up","triangle-up","triangle-up","square","square","square"]},"legend":null},
"fill":{"field":"sym","type":"nominal","scale":{"domain":["AdultAny","AdultCig","AdultOTP","YoungAny","YoungCig","YoungOTP","BothAny","BothCig","BothOTP"],"range":["#000000","#a6a6a6","#ffffff","#000000","#a6a6a6","#ffffff","#000000","#a6a6a6","#ffffff"]},"legend":null},
"stroke":{"field":"sym","type":"nominal","scale":{"domain":["AdultAny","AdultCig","AdultOTP","YoungAny","YoungCig","YoungOTP","BothAny","BothCig","BothOTP"],"range":["#000000","#a6a6a6","#262626","#000000","#a6a6a6","#262626","#000000","#a6a6a6","#262626"]},"legend":null},
"size":{"field":"sym","type":"ordinal","scale":{"domain":["AdultAny","AdultCig","AdultOTP","YoungAny","YoungCig","YoungOTP","BothAny","BothCig","BothOTP"],"range":[22,22,18,26,26,22,40,40,34]},"legend":null}}}
]},
{"width":300,"height":199,"title":{"text":"Tobacco Use Intensity","dx":13.5,"dy":-3},"data":{"name":"tob"},
"layer":[
{"mark":{"type":"text","align":"left"},"encoding":{"x":{"datum":-3.79,"type":"quantitative","scale":{"domain":[-5.354,19],"nice":false,"zero":false},"axis":{"title":null,"values":[-3,-2,-1,0,1,2,3,4,5,6,7,8,9,10,11,12,13,14,15,16,17,18,19],"labelPadding":5}},"y":{"field":"i","type":"quantitative","scale":{"domain":[-2.89,25.02],"reverse":true,"nice":false,"zero":false},"axis":null},"text":{"field":"study"}}},
{"mark":{"type":"text","align":"right"},"encoding":{"x":{"datum":18.4,"type":"quantitative","scale":{"domain":[-5.354,19],"nice":false,"zero":false},"axis":{"title":null,"values":[-3,-2,-1,0,1,2,3,4,5,6,7,8,9,10,11,12,13,14,15,16,17,18,19],"labelPadding":5}},"y":{"field":"i","type":"quantitative","scale":{"domain":[-2.89,25.02],"reverse":true,"nice":false,"zero":false},"axis":null},"text":{"field":"txt"}}},
{"transform":[{"filter":"datum.t1"}],"mark":{"type":"text","align":"left"},"encoding":{"x":{"datum":18.58,"type":"quantitative","scale":{"domain":[-5.354,19],"nice":false,"zero":false},"axis":{"title":null,"values":[-3,-2,-1,0,1,2,3,4,5,6,7,8,9,10,11,12,13,14,15,16,17,18,19],"labelPadding":5}},"y":{"field":"i","type":"quantitative","scale":{"domain":[-2.89,25.02],"reverse":true,"nice":false,"zero":false},"axis":null},"text":{"value":"*"}}},
{"data":{"values":[{"ref":1}]},"mark":{"type":"rule","strokeDash":[4,2],"color":"#000000","strokeWidth":1.3},"encoding":{"x":{"field":"ref","type":"quantitative","scale":{"domain":[-5.354,19],"nice":false,"zero":false},"axis":{"title":null,"values":[-3,-2,-1,0,1,2,3,4,5,6,7,8,9,10,11,12,13,14,15,16,17,18,19],"labelPadding":5}},"y":{"datum":-0.3,"type":"quantitative","scale":{"domain":[-2.89,25.02],"reverse":true,"nice":false,"zero":false},"axis":null},"y2":{"datum":25.02}}},
{"transform":[{"filter":"datum.lo != null"}],"mark":{"type":"rule","color":"#808080","strokeWidth":1},"encoding":{"x":{"field":"lo","type":"quantitative","scale":{"domain":[-5.354,19],"nice":false,"zero":false},"axis":{"title":null,"values":[-3,-2,-1,0,1,2,3,4,5,6,7,8,9,10,11,12,13,14,15,16,17,18,19],"labelPadding":5}},"x2":{"field":"hi"},"y":{"field":"i","type":"quantitative","scale":{"domain":[-2.89,25.02],"reverse":true,"nice":false,"zero":false},"axis":null}}},
{"transform":[{"filter":"datum.lo != null"}],"mark":{"type":"tick","orient":"vertical","size":4,"thickness":1,"color":"#808080","opacity":1},"encoding":{"x":{"field":"lo","type":"quantitative","scale":{"domain":[-5.354,19],"nice":false,"zero":false},"axis":{"title":null,"values":[-3,-2,-1,0,1,2,3,4,5,6,7,8,9,10,11,12,13,14,15,16,17,18,19],"labelPadding":5}},"y":{"field":"i","type":"quantitative","scale":{"domain":[-2.89,25.02],"reverse":true,"nice":false,"zero":false},"axis":null}}},
{"transform":[{"filter":"datum.lo != null"}],"mark":{"type":"tick","orient":"vertical","size":4,"thickness":1,"color":"#808080","opacity":1},"encoding":{"x":{"field":"hi","type":"quantitative","scale":{"domain":[-5.354,19],"nice":false,"zero":false},"axis":{"title":null,"values":[-3,-2,-1,0,1,2,3,4,5,6,7,8,9,10,11,12,13,14,15,16,17,18,19],"labelPadding":5}},"y":{"field":"i","type":"quantitative","scale":{"domain":[-2.89,25.02],"reverse":true,"nice":false,"zero":false},"axis":null}}},
{"transform":[{"filter":"datum.or != null"}],"mark":{"type":"point","strokeWidth":1.2,"opacity":1},"encoding":{"x":{"field":"or","type":"quantitative","scale":{"domain":[-5.354,19],"nice":false,"zero":false},"axis":{"title":null,"values":[-3,-2,-1,0,1,2,3,4,5,6,7,8,9,10,11,12,13,14,15,16,17,18,19],"labelPadding":5}},"y":{"field":"i","type":"quantitative","scale":{"domain":[-2.89,25.02],"reverse":true,"nice":false,"zero":false},"axis":null},
"shape":{"field":"sym","type":"nominal","scale":{"domain":["AdultAny","AdultCig","AdultOTP","YoungAny","YoungCig","YoungOTP","BothAny","BothCig","BothOTP"],"range":["circle","circle","circle","triangle-up","triangle-up","triangle-up","square","square","square"]},"legend":null},
"fill":{"field":"sym","type":"nominal","scale":{"domain":["AdultAny","AdultCig","AdultOTP","YoungAny","YoungCig","YoungOTP","BothAny","BothCig","BothOTP"],"range":["#000000","#a6a6a6","#ffffff","#000000","#a6a6a6","#ffffff","#000000","#a6a6a6","#ffffff"]},"legend":null},
"stroke":{"field":"sym","type":"nominal","scale":{"domain":["AdultAny","AdultCig","AdultOTP","YoungAny","YoungCig","YoungOTP","BothAny","BothCig","BothOTP"],"range":["#000000","#a6a6a6","#262626","#000000","#a6a6a6","#262626","#000000","#a6a6a6","#262626"]},"legend":null},
"size":{"field":"sym","type":"ordinal","scale":{"domain":["AdultAny","AdultCig","AdultOTP","YoungAny","YoungCig","YoungOTP","BothAny","BothCig","BothOTP"],"range":[22,22,18,26,26,22,40,40,34]},"legend":null}}}
]},
{"width":255,"height":199,"title":{"text":"Sexual and Gender Minority","dx":21,"dy":-4},"data":{"name":"sgm"},
"layer":[
{"mark":{"type":"text","align":"left"},"encoding":{"x":{"datum":-2.14,"type":"quantitative","scale":{"domain":[-4.077,9],"nice":false,"zero":false},"axis":{"title":null,"values":[-3,-2,-1,0,1,2,3,4,5,6,7,8,9],"labelPadding":5.5}},"y":{"field":"i","type":"quantitative","scale":{"domain":[-0.668,8.022],"reverse":true,"nice":false,"zero":false},"axis":null},"text":{"field":"study"}}},
{"mark":{"type":"text","align":"right"},"encoding":{"x":{"datum":8.15,"type":"quantitative","scale":{"domain":[-4.077,9],"nice":false,"zero":false},"axis":{"title":null,"values":[-3,-2,-1,0,1,2,3,4,5,6,7,8,9],"labelPadding":5.5}},"y":{"field":"i","type":"quantitative","scale":{"domain":[-0.668,8.022],"reverse":true,"nice":false,"zero":false},"axis":null},"text":{"field":"txt"}}},
{"transform":[{"filter":"datum.t1"}],"mark":{"type":"text","align":"left"},"encoding":{"x":{"datum":8.27,"type":"quantitative","scale":{"domain":[-4.077,9],"nice":false,"zero":false},"axis":{"title":null,"values":[-3,-2,-1,0,1,2,3,4,5,6,7,8,9],"labelPadding":5.5}},"y":{"field":"i","type":"quantitative","scale":{"domain":[-0.668,8.022],"reverse":true,"nice":false,"zero":false},"axis":null},"text":{"value":"*"}}},
{"data":{"values":[{"ref":1}]},"mark":{"type":"rule","strokeDash":[5,4],"color":"#000000","strokeWidth":1.5},"encoding":{"x":{"field":"ref","type":"quantitative","scale":{"domain":[-4.077,9],"nice":false,"zero":false},"axis":{"title":null,"values":[-3,-2,-1,0,1,2,3,4,5,6,7,8,9],"labelPadding":5.5}},"y":{"datum":-0.2,"type":"quantitative","scale":{"domain":[-0.668,8.022],"reverse":true,"nice":false,"zero":false},"axis":null},"y2":{"datum":7.3}}},
{"transform":[{"filter":"datum.lo != null"}],"mark":{"type":"rule","color":"#808080","strokeWidth":1},"encoding":{"x":{"field":"lo","type":"quantitative","scale":{"domain":[-4.077,9],"nice":false,"zero":false},"axis":{"title":null,"values":[-3,-2,-1,0,1,2,3,4,5,6,7,8,9],"labelPadding":5.5}},"x2":{"field":"hi"},"y":{"field":"i","type":"quantitative","scale":{"domain":[-0.668,8.022],"reverse":true,"nice":false,"zero":false},"axis":null}}},
{"transform":[{"filter":"datum.lo != null"}],"mark":{"type":"tick","orient":"vertical","size":4,"thickness":1,"color":"#808080","opacity":1},"encoding":{"x":{"field":"lo","type":"quantitative","scale":{"domain":[-4.077,9],"nice":false,"zero":false},"axis":{"title":null,"values":[-3,-2,-1,0,1,2,3,4,5,6,7,8,9],"labelPadding":5.5}},"y":{"field":"i","type":"quantitative","scale":{"domain":[-0.668,8.022],"reverse":true,"nice":false,"zero":false},"axis":null}}},
{"transform":[{"filter":"datum.lo != null"}],"mark":{"type":"tick","orient":"vertical","size":4,"thickness":1,"color":"#808080","opacity":1},"encoding":{"x":{"field":"hi","type":"quantitative","scale":{"domain":[-4.077,9],"nice":false,"zero":false},"axis":{"title":null,"values":[-3,-2,-1,0,1,2,3,4,5,6,7,8,9],"labelPadding":5.5}},"y":{"field":"i","type":"quantitative","scale":{"domain":[-0.668,8.022],"reverse":true,"nice":false,"zero":false},"axis":null}}},
{"transform":[{"filter":"datum.or != null"}],"mark":{"type":"point","strokeWidth":1.2,"opacity":1},"encoding":{"x":{"field":"or","type":"quantitative","scale":{"domain":[-4.077,9],"nice":false,"zero":false},"axis":{"title":null,"values":[-3,-2,-1,0,1,2,3,4,5,6,7,8,9],"labelPadding":5.5}},"y":{"field":"i","type":"quantitative","scale":{"domain":[-0.668,8.022],"reverse":true,"nice":false,"zero":false},"axis":null},
"shape":{"field":"sym","type":"nominal","scale":{"domain":["AdultAny","AdultCig","AdultOTP","YoungAny","YoungCig","YoungOTP","BothAny","BothCig","BothOTP"],"range":["circle","circle","circle","triangle-up","triangle-up","triangle-up","square","square","square"]},"legend":null},
"fill":{"field":"sym","type":"nominal","scale":{"domain":["AdultAny","AdultCig","AdultOTP","YoungAny","YoungCig","YoungOTP","BothAny","BothCig","BothOTP"],"range":["#000000","#a6a6a6","#ffffff","#000000","#a6a6a6","#ffffff","#000000","#a6a6a6","#ffffff"]},"legend":null},
"stroke":{"field":"sym","type":"nominal","scale":{"domain":["AdultAny","AdultCig","AdultOTP","YoungAny","YoungCig","YoungOTP","BothAny","BothCig","BothOTP"],"range":["#000000","#a6a6a6","#262626","#000000","#a6a6a6","#262626","#000000","#a6a6a6","#262626"]},"legend":null},
"size":{"field":"sym","type":"ordinal","scale":{"domain":["AdultAny","AdultCig","AdultOTP","YoungAny","YoungCig","YoungOTP","BothAny","BothCig","BothOTP"],"range":[22,22,18,26,26,22,40,40,34]},"legend":null}}}
]}
],"spacing":0,"bounds":"flush"}
]},
{"width":780,"height":180,
"layer":[
{"data":{"values":[{}]},"mark":{"type":"text","align":"left","baseline":"middle","fontSize":10.4,"color":"#404040","fontStyle":"italic"},"encoding":{"x":{"datum":1.2,"type":"quantitative","scale":{"domain":[0,100],"nice":false,"zero":false},"axis":null},"y":{"datum":-2.78,"type":"quantitative","scale":{"domain":[-2.097,8.189],"reverse":true,"nice":false,"zero":false},"axis":null},"text":{"value":"All:"}}},
{"data":{"values":[{}]},"mark":{"type":"text","align":"left","baseline":"middle","fontSize":10.4,"color":"#404040"},"encoding":{"x":{"datum":3.32,"type":"quantitative","scale":{"domain":[0,100],"nice":false,"zero":false},"axis":null},"y":{"datum":-2.78,"type":"quantitative","scale":{"domain":[-2.097,8.189],"reverse":true,"nice":false,"zero":false},"axis":null},"text":{"value":"Non-stratified sample by tobacco user status."}}},
{"data":{"values":[{}]},"mark":{"type":"text","align":"left","baseline":"middle","fontSize":10.4,"color":"#404040","fontStyle":"italic"},"encoding":{"x":{"datum":30.1,"type":"quantitative","scale":{"domain":[0,100],"nice":false,"zero":false},"axis":null},"y":{"datum":-2.78,"type":"quantitative","scale":{"domain":[-2.097,8.189],"reverse":true,"nice":false,"zero":false},"axis":null},"text":{"value":"NON-USERS"}}},
{"data":{"values":[{}]},"mark":{"type":"text","align":"left","baseline":"middle","fontSize":10.4,"color":"#404040"},"encoding":{"x":{"datum":37.25,"type":"quantitative","scale":{"domain":[0,100],"nice":false,"zero":false},"axis":null},"y":{"datum":-2.78,"type":"quantitative","scale":{"domain":[-2.097,8.189],"reverse":true,"nice":false,"zero":false},"axis":null},"text":{"value":": never/former tobacco users-"}}},
{"data":{"values":[{}]},"mark":{"type":"text","align":"left","baseline":"middle","fontSize":10.4,"color":"#404040","fontStyle":"italic"},"encoding":{"x":{"datum":55.0,"type":"quantitative","scale":{"domain":[0,100],"nice":false,"zero":false},"axis":null},"y":{"datum":-2.78,"type":"quantitative","scale":{"domain":[-2.097,8.189],"reverse":true,"nice":false,"zero":false},"axis":null},"text":{"value":"USERS:"}}},
{"data":{"values":[{}]},"mark":{"type":"text","align":"left","baseline":"middle","fontSize":10.4,"color":"#404040"},"encoding":{"x":{"datum":59.5,"type":"quantitative","scale":{"domain":[0,100],"nice":false,"zero":false},"axis":null},"y":{"datum":-2.78,"type":"quantitative","scale":{"domain":[-2.097,8.189],"reverse":true,"nice":false,"zero":false},"axis":null},"text":{"value":"Tobacco product users. *Quality Tier 1 studies"}}},
{"data":{"values":[{}]},"mark":{"type":"text","align":"left","baseline":"middle","fontSize":10.4,"color":"#404040","fontStyle":"italic"},"encoding":{"x":{"datum":2.3,"type":"quantitative","scale":{"domain":[0,100],"nice":false,"zero":false},"axis":null},"y":{"datum":-1.354,"type":"quantitative","scale":{"domain":[-2.097,8.189],"reverse":true,"nice":false,"zero":false},"axis":null},"text":{"value":"Graph symbols"}}},
{"data":{"name":"legend"},"mark":{"type":"point","strokeWidth":2.2,"opacity":1},"encoding":{"x":{"datum":3.59,"type":"quantitative","scale":{"domain":[0,100],"nice":false,"zero":false},"axis":null},"y":{"field":"k","type":"quantitative","scale":{"domain":[-2.097,8.189],"reverse":true,"nice":false,"zero":false},"axis":null},
"shape":{"field":"sym","type":"nominal","scale":{"domain":["AdultAny","AdultCig","AdultOTP","YoungAny","YoungCig","YoungOTP","BothAny","BothCig","BothOTP"],"range":["circle","circle","circle","triangle-up","triangle-up","triangle-up","M-0.75,-1L0.75,-1L0.75,1L-0.75,1Z","M-0.75,-1L0.75,-1L0.75,1L-0.75,1Z","M-0.75,-1L0.75,-1L0.75,1L-0.75,1Z"]},"legend":null},
"fill":{"field":"sym","type":"nominal","scale":{"domain":["AdultAny","AdultCig","AdultOTP","YoungAny","YoungCig","YoungOTP","BothAny","BothCig","BothOTP"],"range":["#262626","#a6a6a6","#ffffff","#262626","#a6a6a6","#ffffff","#262626","#a6a6a6","#ffffff"]},"legend":null},
"stroke":{"field":"sym","type":"nominal","scale":{"domain":["AdultAny","AdultCig","AdultOTP","YoungAny","YoungCig","YoungOTP","BothAny","BothCig","BothOTP"],"range":["#262626","#a6a6a6","#262626","#262626","#a6a6a6","#262626","#262626","#a6a6a6","#262626"]},"legend":null},
"size":{"field":"sym","type":"ordinal","scale":{"domain":["AdultAny","AdultCig","AdultOTP","YoungAny","YoungCig","YoungOTP","BothAny","BothCig","BothOTP"],"range":[90,90,68,145,145,140,175,175,145]},"legend":null}}},
{"data":{"name":"legend"},"mark":{"type":"text","align":"left","baseline":"middle","fontSize":9.7,"color":"#404040"},"encoding":{"x":{"datum":7.31,"type":"quantitative","scale":{"domain":[0,100],"nice":false,"zero":false},"axis":null},"y":{"field":"k","type":"quantitative","scale":{"domain":[-2.097,8.189],"reverse":true,"nice":false,"zero":false},"axis":null},"text":{"field":"label"}}}
]}
],
"config":{
"view":{"stroke":null},
"font":"Lato",
"title":{"font":"Lato","fontSize":14,"fontWeight":"bold","color":"#000000","offset":-1,"anchor":"middle"},
"text":{"font":"Lato","fontSize":6,"color":"#8c8c8c","baseline":"middle"},
"axisX":{"grid":false,"ticks":false,"domainColor":"#d9d9d9","labelColor":"#a6a6a6","labelFont":"Lato","labelFontSize":7,"labelOverlap":false,"labelFlush":false,"labelExpr":"'' + datum.value"}
}
}
